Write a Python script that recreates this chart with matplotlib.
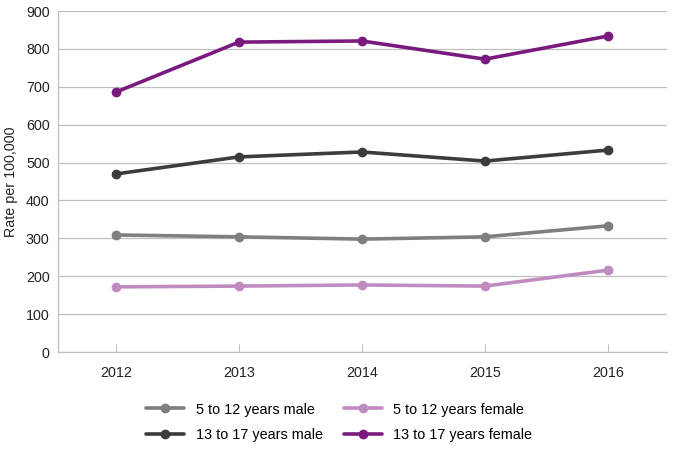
import matplotlib
matplotlib.use("Agg")
from matplotlib import pyplot as plt

plt.rcParams['font.family'] = ['Liberation Sans', 'DejaVu Sans']

years = ["2012", "2013", "2014", "2015", "2016"]
male_5_12 = [309, 304, 298, 304, 333]
female_5_12 = [172, 174, 177, 174, 216]
male_13_17 = [470, 515, 528, 504, 533]
female_13_17 = [686, 818, 821, 773, 834]

series = [
    ("5 to 12 years male", male_5_12, "#7f7f7f"),
    ("13 to 17 years male", male_13_17, "#3c3c3c"),
    ("5 to 12 years female", female_5_12, "#c08cc0"),
    ("13 to 17 years female", female_13_17, "#7b1a7e"),
]

fig = plt.figure(figsize=(6.75, 4.51), dpi=100)
ax = fig.add_axes([0.086, 0.2195, 0.902, 0.756])

x = list(range(len(years)))
for label, vals, color in series:
    ax.plot(x, vals, color=color, lw=2.6, marker="o", ms=6, label=label,
            solid_capstyle="round", zorder=3)

ax.set_ylim(0, 900)
ax.set_yticks(range(0, 901, 100))
ax.set_xlim(-0.47, 4.48)
ax.set_xticks(x)
ax.set_xticklabels(years)
ax.yaxis.grid(True, color="#bfbfbf", lw=0.9)
ax.set_axisbelow(True)
for s in ["top", "right"]:
    ax.spines[s].set_visible(False)
for s in ["left", "bottom"]:
    ax.spines[s].set_color("#bfbfbf")
    ax.spines[s].set_linewidth(0.9)
ax.tick_params(axis="y", length=0, labelsize=10.3, colors="#222222", pad=6)
ax.tick_params(axis="x", direction="in", length=6, color="#bfbfbf",
               labelsize=10.3, labelcolor="#222222", pad=10)
ax.set_ylabel("Rate per 100,000", fontsize=10.3, color="#222222", labelpad=6)

ax.legend(loc="upper center", bbox_to_anchor=(0.462, -0.11), ncol=2,
          frameon=False, fontsize=10.4, handlelength=2.6, columnspacing=1.5,
          labelspacing=0.8, handletextpad=0.8)

fig.savefig("out.png", dpi=100)
